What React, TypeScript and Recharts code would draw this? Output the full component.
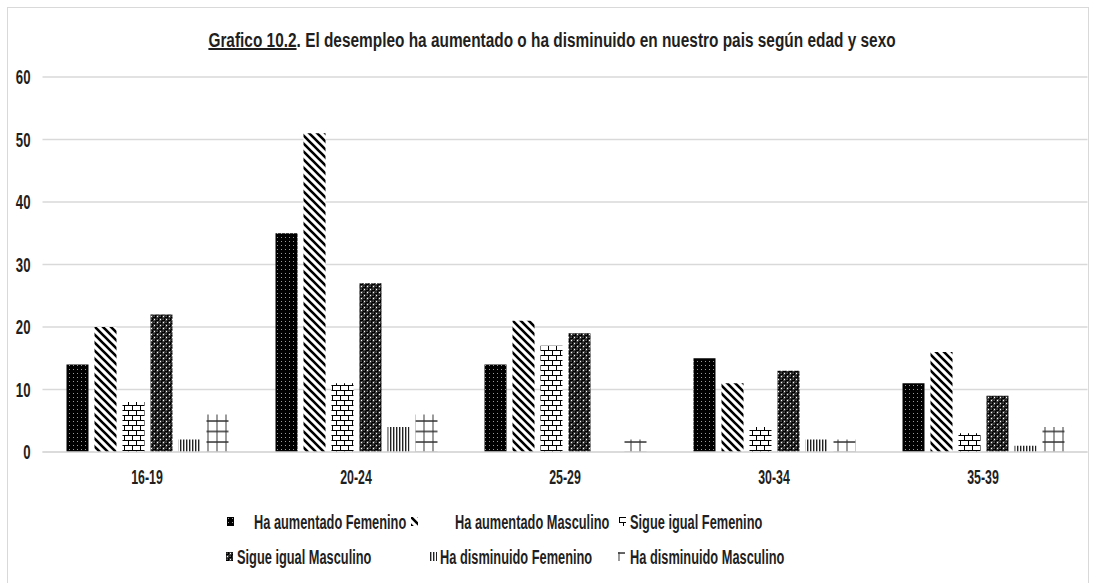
import React from 'react';
import { BarChart, Bar, XAxis, YAxis, CartesianGrid } from 'recharts';

const categories = ['16-19', '20-24', '25-29', '30-34', '35-39'];
const haAumentadoFemenino = [14, 35, 14, 15, 11];
const haAumentadoMasculino = [20, 51, 21, 11, 16];
const sigueIgualFemenino = [8, 11, 17, 4, 3];
const sigueIgualMasculino = [22, 27, 19, 13, 9];
const haDisminuidoFemenino = [2, 4, 0, 2, 1];
const haDisminuidoMasculino = [6, 6, 2, 2, 4];
const yTicks = [0, 10, 20, 30, 40, 50, 60];

const seriesNames = [
  'Ha aumentado Femenino',
  'Ha aumentado Masculino',
  'Sigue igual Femenino',
  'Sigue igual Masculino',
  'Ha disminuido Femenino',
  'Ha disminuido Masculino',
];
const seriesValues = [
  haAumentadoFemenino,
  haAumentadoMasculino,
  sigueIgualFemenino,
  sigueIgualMasculino,
  haDisminuidoFemenino,
  haDisminuidoMasculino,
];
const patternIds = ['pDots', 'pDiag', 'pBrick', 'pSphere', 'pVert', 'pGrid'];

const data = categories.map((c, i) => {
  const row: Record<string, string | number> = { cat: c };
  seriesNames.forEach((n, s) => { row[n] = seriesValues[s][i]; });
  return row;
});

// el original es Calibri comprimido en horizontal: Liberation Sans + scaleX
const FONT = '"Liberation Sans", Arial, sans-serif';
const TEXT = '#1f1f1f';
const FS = 20;
const SQUEEZE_TEXT = 0.64;
const SQUEEZE_TITLE = 0.77;
const SQUEEZE_NUM = 0.66;

function Patterns() {
  return (
    <svg width={0} height={0} style={{ position: 'absolute' }}>
      <defs>
        <pattern id="pDots" width={4} height={4} patternUnits="userSpaceOnUse">
          <rect width={4} height={4} fill="#000" />
          <rect x={1} y={1} width={1} height={1} fill="#9a9a9a" />
        </pattern>
        <pattern id="pDiag" width={8} height={8} patternUnits="userSpaceOnUse">
          <rect width={8} height={8} fill="#fff" />
          <path d="M-2,-2 L10,10 M-2,6 L2,10 M6,-2 L10,2" stroke="#000" strokeWidth={2.6} />
        </pattern>
        <pattern id="pBrick" width={8} height={10} patternUnits="userSpaceOnUse">
          <rect width={8} height={10} fill="#fff" />
          <path d="M0,0.5 H8 M0,5.5 H8 M0.5,0.5 V5.5 M4.5,5.5 V10" stroke="#000" strokeWidth={1} />
        </pattern>
        <pattern id="pSphere" width={6} height={6} patternUnits="userSpaceOnUse">
          <rect width={6} height={6} fill="#fff" />
          <circle cx={1.5} cy={1.5} r={2.3} fill="#000" />
          <circle cx={4.5} cy={4.5} r={2.3} fill="#000" />
          <circle cx={7.5} cy={1.5} r={2.3} fill="#000" />
          <circle cx={1.5} cy={7.5} r={2.3} fill="#000" />
          <circle cx={7.5} cy={7.5} r={2.3} fill="#000" />
          <circle cx={-1.5} cy={4.5} r={2.3} fill="#000" />
          <circle cx={4.5} cy={-1.5} r={2.3} fill="#000" />
          <circle cx={-1.5} cy={-1.5} r={2.3} fill="#000" />
          <circle cx={1.1} cy={1.1} r={0.6} fill="#ccc" />
          <circle cx={4.1} cy={4.1} r={0.6} fill="#ccc" />
        </pattern>
        <pattern id="pVert" width={3} height={3} patternUnits="userSpaceOnUse">
          <rect width={3} height={3} fill="#fff" />
          <rect x={0} width={1.4} height={3} fill="#222" />
        </pattern>
        <pattern id="pGrid" width={9} height={10.5} patternUnits="userSpaceOnUse">
          <rect width={9} height={10.5} fill="#fff" />
          <path d="M1,0 V10.5" stroke="#666" strokeWidth={1.3} />
          <path d="M0,1 H9" stroke="#333" strokeWidth={1.5} />
        </pattern>
      </defs>
    </svg>
  );
}

function YTick({ x, y, payload }: any) {
  return (
    <text transform={`translate(${x},${y}) scale(${SQUEEZE_NUM},1)`} textAnchor="end" dy="0.36em"
      fill={TEXT} fontSize={FS} fontWeight={700} fontFamily={FONT}>
      {payload.value}
    </text>
  );
}

function XTick({ x, y, payload }: any) {
  return (
    <text transform={`translate(${x},${y}) scale(0.62,1)`} textAnchor="middle" dy="0.71em"
      fill={TEXT} fontSize={FS} fontWeight={700} fontFamily={FONT}>
      {payload.value}
    </text>
  );
}

// leyenda en dos filas, como en el original
const legendPos = [
  { icon: 227, text: 254, row: 0 },
  { icon: 411, text: 455, row: 0 },
  { icon: 619, text: 630, row: 0 },
  { icon: 226, text: 237, row: 1 },
  { icon: 430, text: 440, row: 1 },
  { icon: 618, text: 630, row: 1 },
];

function LegendBox() {
  return (
    <>
      {seriesNames.map((name, i) => {
        const p = legendPos[i];
        const cy = 522 + p.row * 35;
        return (
          <React.Fragment key={name}>
            <svg width={7} height={9} style={{ position: 'absolute', left: p.icon, top: cy - 5 }}>
              <rect width={7} height={9} fill={`url(#${patternIds[i]})`} />
            </svg>
            <div style={{ position: 'absolute', left: p.text, top: cy - 12, lineHeight: '24px', fontSize: FS, fontWeight: 700, fontFamily: FONT, color: TEXT, whiteSpace: 'nowrap', transform: `scaleX(${SQUEEZE_TEXT})`, transformOrigin: 'left center' }}>
              {name}
            </div>
          </React.Fragment>
        );
      })}
    </>
  );
}

export default function App() {
  return (
    <div style={{ position: 'absolute', left: 0, top: 0, width: 1094, height: 583, background: '#fff', overflow: 'hidden' }}>
      <Patterns />
      <div style={{ position: 'absolute', left: 7, top: 7, width: 1080, height: 580, border: '1px solid #d9d9d9', borderBottom: 'none' }} />
      <div style={{ position: 'absolute', left: -448.5, top: 28, width: 2000, textAlign: 'center', fontFamily: FONT, fontWeight: 700, fontSize: FS, lineHeight: '24px', color: TEXT, whiteSpace: 'nowrap', transform: `scaleX(${SQUEEZE_TITLE})`, transformOrigin: 'center center' }}>
        <span style={{ textDecoration: 'underline' }}>Grafico 10.2</span>. El desempleo ha aumentado o ha disminuido en nuestro pais según edad y sexo
      </div>
      <div style={{ position: 'absolute', left: 0, top: 0 }}>
        <BarChart
          width={1094}
          height={583}
          data={data}
          margin={{ top: 77, right: 6.5, bottom: 101, left: 2.5 }}
          barSize={22}
          barGap={6}
        >
          <CartesianGrid vertical={false} stroke="#d9d9d9" strokeWidth={1.3} />
          <XAxis
            dataKey="cat"
            height={30}
            tickLine={false}
            axisLine={{ stroke: '#d9d9d9', strokeWidth: 1.3 }}
            tickMargin={12}
            tick={<XTick />}
          />
          <YAxis
            width={40}
            domain={[0, 60]}
            ticks={yTicks}
            axisLine={false}
            tickLine={false}
            tickMargin={6}
            tick={<YTick />}
          />
          {seriesNames.map((name, i) => (
            <Bar key={name} dataKey={name} fill={`url(#${patternIds[i]})`} isAnimationActive={false} />
          ))}
        </BarChart>
      </div>
      <LegendBox />
    </div>
  );
}
